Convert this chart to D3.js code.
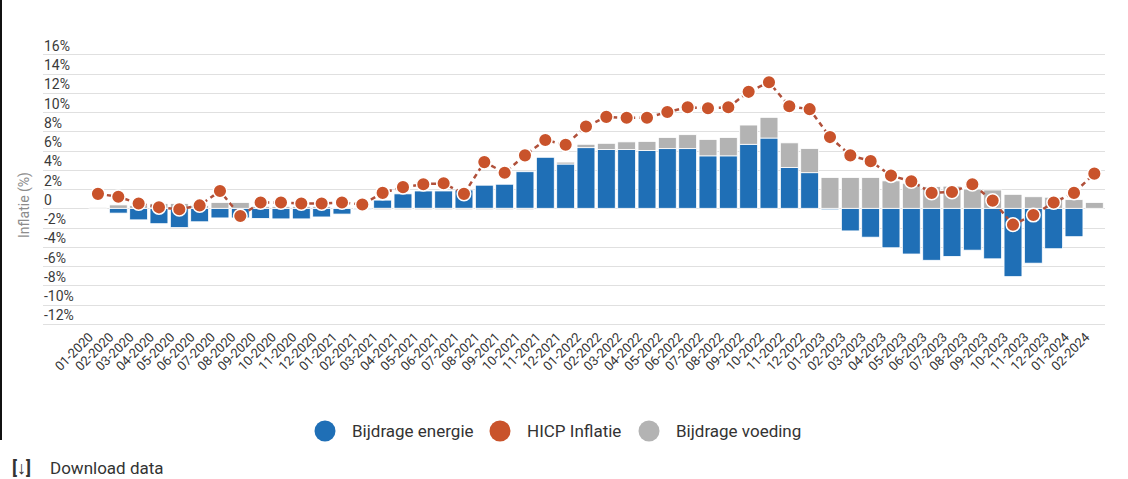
<!DOCTYPE html>
<html>
<head>
<meta charset="utf-8">
<script src="https://cdn.jsdelivr.net/npm/d3@7"></script>
<style>
  body { margin: 0; background: #fff; font-family: Roboto, "Noto Sans", sans-serif; }
  svg { display: block; }
</style>
</head>
<body>
<svg id="chart" width="1128" height="479"></svg>
<script>
const months = [
  '01-2020','02-2020','03-2020','04-2020','05-2020','06-2020','07-2020','08-2020','09-2020','10-2020','11-2020','12-2020',
  '01-2021','02-2021','03-2021','04-2021','05-2021','06-2021','07-2021','08-2021','09-2021','10-2021','11-2021','12-2021',
  '01-2022','02-2022','03-2022','04-2022','05-2022','06-2022','07-2022','08-2022','09-2022','10-2022','11-2022','12-2022',
  '01-2023','02-2023','03-2023','04-2023','05-2023','06-2023','07-2023','08-2023','09-2023','10-2023','11-2023','12-2023',
  '01-2024','02-2024'
]

// Bijdrage energie (blauw)
const energie = [
  0, -0.5, -1.2, -1.6, -2.0, -1.4, -1.0, -1.0, -1.05, -1.1, -1.1, -0.9,
  -0.6, -0.1, 0.85, 1.5, 1.8, 1.8, 1.9, 2.4, 2.5, 3.8, 5.3, 4.6,
  6.3, 6.1, 6.1, 6.0, 6.2, 6.2, 5.45, 5.45, 6.65, 7.3, 4.25, 3.7,
  -0.15, -2.35, -3.0, -4.1, -4.75, -5.4, -5.0, -4.35, -5.25, -7.1, -5.7, -4.2,
  -2.95, 0
]

// Bijdrage voeding (grijs)
const voeding = [
  0.1, 0.35, 0.3, 0.5, 0.5, 0.3, 0.6, 0.6, 0.2, 0.2, 0.2, 0.2,
  0.1, 0, -0.15, -0.15, -0.15, -0.15, -0.15, -0.15, -0.15, -0.15, 0, 0.2,
  0.35, 0.65, 0.8, 0.95, 1.15, 1.45, 1.7, 1.9, 2.0, 2.15, 2.55, 2.5,
  3.2, 3.2, 3.2, 2.85, 2.6, 2.25, 2.3, 2.0, 1.9, 1.45, 1.2, 1.15,
  0.9, 0.6
]

// HICP Inflatie (lijn)
const hicp = [
  1.5, 1.2, 0.5, 0.1, -0.1, 0.3, 1.8, -0.8, 0.6, 0.6, 0.5, 0.5,
  0.6, 0.4, 1.6, 2.2, 2.5, 2.6, 1.5, 4.8, 3.7, 5.5, 7.1, 6.6,
  8.5, 9.5, 9.4, 9.4, 10.0, 10.5, 10.4, 10.5, 12.1, 13.1, 10.6, 10.3,
  7.4, 5.5, 4.9, 3.4, 2.8, 1.6, 1.7, 2.5, 0.8, -1.7, -0.7, 0.6,
  1.6, 3.6
]

const yTicks = [16, 14, 12, 10, 8, 6, 4, 2, 0, -2, -4, -6, -8, -10, -12]

const legendItems = [
  { name: 'Bijdrage energie', color: '#1f6fb6' },
  { name: 'HICP Inflatie', color: '#c9532b' },
  { name: 'Bijdrage voeding', color: '#b3b3b3' }
]

const svg = d3.select('#chart')

const x = d3.scaleBand()
  .domain(months)
  .range([87.8, 1104.5])
  .paddingInner(0.12)
  .paddingOuter(0.06)

const y = d3.scaleLinear()
  .domain([-12, 16])
  .range([323.8, 54.3])

// left edge of the screenshot
svg.append('rect')
  .attr('x', 0).attr('y', 0)
  .attr('width', 2).attr('height', 440)
  .attr('fill', '#111')

// gridlines + y labels
const grid = svg.append('g').attr('class', 'grid')
grid.selectAll('line')
  .data(yTicks)
  .enter().append('line')
  .attr('x1', 43).attr('x2', 1105)
  .attr('y1', d => Math.round(y(d)) + 0.5)
  .attr('y2', d => Math.round(y(d)) + 0.5)
  .attr('stroke', '#e0e0e0')
  .attr('stroke-width', 1)

grid.selectAll('text')
  .data(yTicks)
  .enter().append('text')
  .attr('x', 44)
  .attr('y', d => y(d) - 3.5)
  .attr('font-size', 14)
  .attr('fill', '#3a3a3a')
  .text(d => d === 0 ? '0' : d + '%')

svg.append('text')
  .attr('transform', 'translate(29,205) rotate(-90)')
  .attr('text-anchor', 'middle')
  .attr('font-size', 14)
  .attr('fill', '#8c8c8c')
  .text('Inflatie (%)')

// stacked bars
const table = months.map((m, i) => ({ month: m, energie: energie[i], voeding: voeding[i] }))
const series = d3.stack()
  .keys(['energie', 'voeding'])
  .offset(d3.stackOffsetDiverging)(table)

const colors = { energie: '#1f6fb6', voeding: '#b3b3b3' }

svg.append('g').selectAll('g')
  .data(series)
  .enter().append('g')
  .attr('fill', d => colors[d.key])
  .selectAll('rect')
  .data(d => d)
  .enter().append('rect')
  .attr('x', d => x(d.data.month))
  .attr('width', x.bandwidth())
  .attr('y', d => y(Math.max(d[0], d[1])))
  .attr('height', d => Math.abs(y(d[0]) - y(d[1])))
  .attr('stroke', '#fff')
  .attr('stroke-width', 0.8)

// HICP line
const cx = m => x(m) + x.bandwidth() / 2
const line = d3.line()
  .x((d, i) => cx(months[i]))
  .y(d => y(d))

svg.append('path')
  .datum(hicp)
  .attr('fill', 'none')
  .attr('stroke', '#b0503a')
  .attr('stroke-width', 2.5)
  .attr('stroke-dasharray', '5,4')
  .attr('d', line)

svg.append('g').selectAll('circle')
  .data(hicp)
  .enter().append('circle')
  .attr('cx', (d, i) => cx(months[i]))
  .attr('cy', d => y(d))
  .attr('r', 6.8)
  .attr('fill', '#c9532b')
  .attr('stroke', '#fff')
  .attr('stroke-width', 1.5)

// x labels
svg.append('g').selectAll('text')
  .data(months)
  .enter().append('text')
  .attr('transform', d => `translate(${cx(d) - 4},${338}) rotate(-45)`)
  .attr('text-anchor', 'end')
  .attr('font-size', 13)
  .attr('fill', '#333')
  .text(d => d)

// legend
const legendX = [325, 500, 649]
const legend = svg.append('g').selectAll('g')
  .data(legendItems)
  .enter().append('g')
  .attr('transform', (d, i) => `translate(${legendX[i]},431)`)
legend.append('circle')
  .attr('r', 10.5)
  .attr('fill', d => d.color)
legend.append('text')
  .attr('x', 27)
  .attr('y', 6)
  .attr('font-size', 17)
  .attr('fill', '#333')
  .text(d => d.name)

// download link
svg.append('text')
  .attr('x', 12).attr('y', 474)
  .attr('font-size', 18)
  .attr('font-weight', 'bold')
  .attr('fill', '#333')
  .text('[↓]')
svg.append('text')
  .attr('x', 50).attr('y', 474)
  .attr('font-size', 17)
  .attr('fill', '#333')
  .text('Download data')
</script>
</body>
</html>
